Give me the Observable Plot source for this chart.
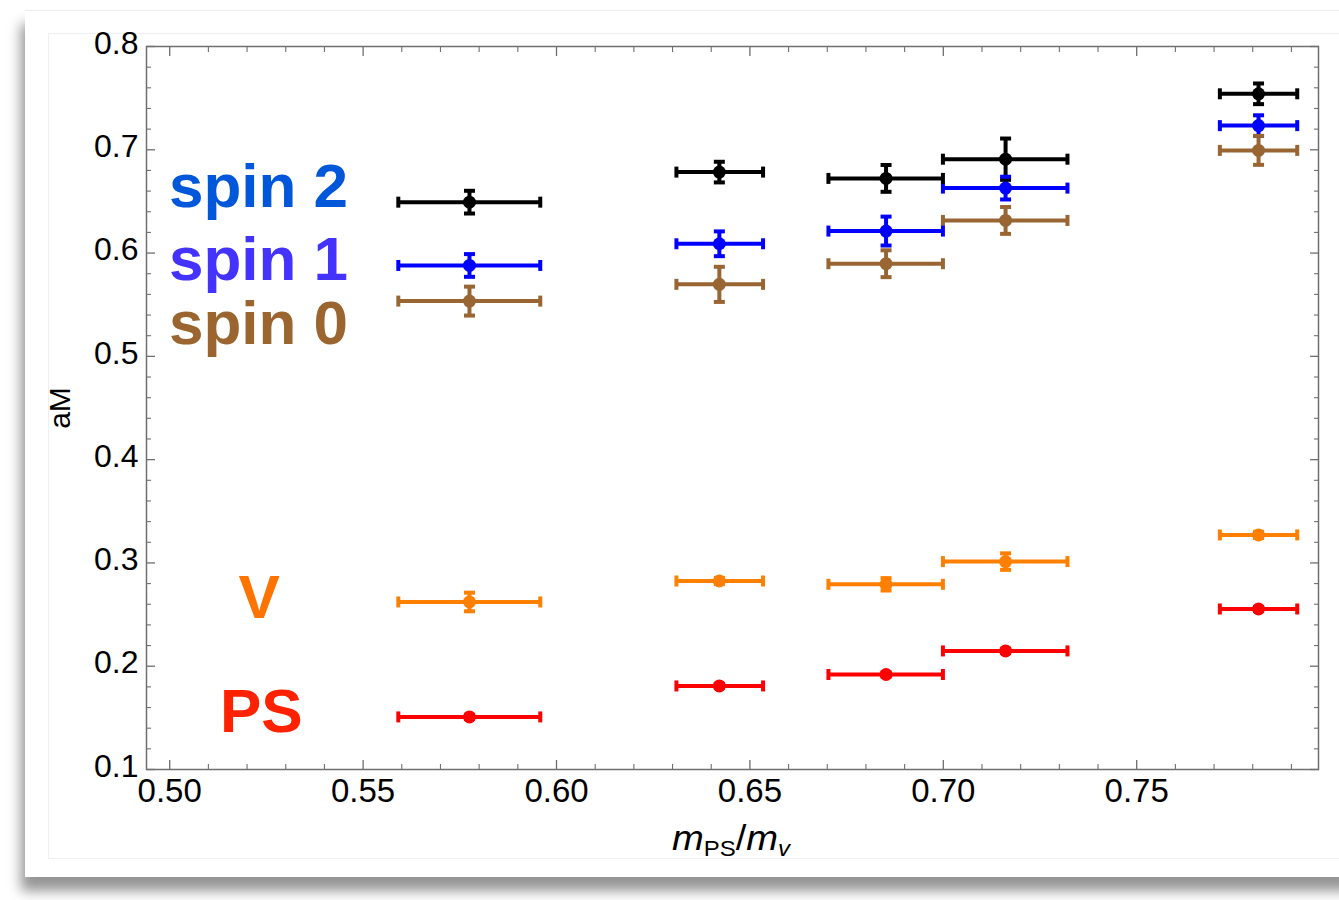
<!DOCTYPE html>
<html>
<head>
<meta charset="utf-8">
<script src="https://cdn.jsdelivr.net/npm/d3@7"></script>
<script src="https://cdn.jsdelivr.net/npm/@observablehq/plot@0.6"></script>
<style>
  html, body { margin: 0; padding: 0; background: #ffffff; width: 1339px; height: 900px; overflow: hidden; }
  #paper { position: absolute; left: 25px; top: 10px; width: 1330px; height: 866px; background: #fff;
           border-top: 1px solid #ececec; box-shadow: -4px 14px 12px rgba(0,0,0,0.42); }
  #panel { position: absolute; left: 48px; top: 33px; width: 1290px; height: 824px; border: 1px solid #efefef; }
  #chart { position: absolute; left: 0; top: 0; }
</style>
</head>
<body>
<div id="paper"></div>
<div id="panel"></div>
<div id="chart"></div>
<script>
// ---- data ----
const mpsOverMv = [0.5775, 0.6421, 0.6852, 0.7161, 0.7815];
const xLow      = [0.5591, 0.6310, 0.6703, 0.6999, 0.7715];
const xHigh     = [0.5958, 0.6534, 0.6999, 0.7321, 0.7915];

const spin2     = [0.6493, 0.6784, 0.6723, 0.6909, 0.7542];
const spin2Err  = [0.011, 0.010, 0.013, 0.020, 0.010];
const spin1     = [0.5880, 0.6090, 0.6213, 0.6629, 0.7234];
const spin1Err  = [0.011, 0.012, 0.014, 0.011, 0.010];
const spin0     = [0.5535, 0.5697, 0.5897, 0.6316, 0.6994];
const spin0Err  = [0.014, 0.017, 0.013, 0.013, 0.014];
const vector    = [0.2622, 0.2825, 0.2793, 0.3013, 0.3271];
const vectorErr = [0.009, 0.003, 0.006, 0.008, 0.003];
const pseudo    = [0.1509, 0.1809, 0.1920, 0.2148, 0.2554];
const pseudoErr = [0.002, 0.002, 0.002, 0.002, 0.002];

const seriesNames  = ["spin 2", "spin 1", "spin 0", "V", "PS"];
const seriesValues = [spin2, spin1, spin0, vector, pseudo];
const seriesErrors = [spin2Err, spin1Err, spin0Err, vectorErr, pseudoErr];
const seriesColors = ["#000000", "#0000ff", "#996633", "#ff8000", "#ff0000"];

const labelText   = ["spin 2", "spin 1", "spin 0", "V", "PS"];
const labelX      = [0.4998, 0.4998, 0.4998, 0.5231, 0.5237];
const labelY      = [0.6442, 0.5742, 0.5123, 0.2469, 0.1361];
const labelColors = ["#0057d9", "#4433ff", "#9b652f", "#ff7300", "#ff2200"];
const labelAnchor = ["start", "start", "start", "middle", "middle"];

const xMajor = [0.50, 0.55, 0.60, 0.65, 0.70, 0.75];
const yMajor = [0.1, 0.2, 0.3, 0.4, 0.5, 0.6, 0.7, 0.8];
const xMinor = d3.range(50, 80).map(d => d / 100).filter(v => !xMajor.some(m => Math.abs(m - v) < 1e-9));
const yMinor = d3.range(5, 40).map(d => d / 50).filter(v => v >= 0.1 && v <= 0.8 && !yMajor.some(m => Math.abs(m - v) < 1e-9));

// ---- build rows ----
const rows = [];
seriesNames.forEach((name, s) => {
  seriesValues[s].forEach((v, i) => {
    rows.push({
      series: name, color: seriesColors[s],
      x: mpsOverMv[i], xlo: xLow[i], xhi: xHigh[i],
      y: v, ylo: v - seriesErrors[s][i], yhi: v + seriesErrors[s][i]
    });
  });
});
const labels = labelText.map((t, i) => ({text: t, x: labelX[i], y: labelY[i], color: labelColors[i], anchor: labelAnchor[i]}));

const vCap = {draw(ctx) { ctx.rect(-2, -5.5, 4, 11); }};
const hCap = {draw(ctx) { ctx.rect(-5.5, -2, 11, 4); }};

const axisColor = "#6f6f6f";
const marks = [
  Plot.frame({stroke: axisColor, strokeWidth: 1.5}),
  // inward ticks on all four sides
  Plot.axisX(xMajor, {anchor: "bottom", tickSize: -9, tickFormat: () => "", stroke: axisColor, strokeWidth: 1.3, label: null}),
  Plot.axisX(xMinor, {anchor: "bottom", tickSize: -5, tickFormat: () => "", stroke: axisColor, strokeWidth: 1.1, label: null}),
  Plot.axisX(xMajor, {anchor: "top", tickSize: -9, tickFormat: () => "", stroke: axisColor, strokeWidth: 1.3, label: null}),
  Plot.axisX(xMinor, {anchor: "top", tickSize: -5, tickFormat: () => "", stroke: axisColor, strokeWidth: 1.1, label: null}),
  Plot.axisY(yMajor, {anchor: "left", tickSize: -9, tickFormat: () => "", stroke: axisColor, strokeWidth: 1.3, label: null}),
  Plot.axisY(yMinor, {anchor: "left", tickSize: -5, tickFormat: () => "", stroke: axisColor, strokeWidth: 1.1, label: null}),
  Plot.axisY(yMajor, {anchor: "right", tickSize: -9, tickFormat: () => "", stroke: axisColor, strokeWidth: 1.3, label: null}),
  Plot.axisY(yMinor, {anchor: "right", tickSize: -5, tickFormat: () => "", stroke: axisColor, strokeWidth: 1.1, label: null}),
  // tick labels
  Plot.axisX(xMajor, {anchor: "bottom", tickSize: 0, tickPadding: 9, tickFormat: d3.format(".2f"), fontSize: 33, fill: "#000", label: null}),
  Plot.axisY(yMajor, {anchor: "left", tickSize: 0, tickPadding: 8, tickFormat: d3.format(".1f"), fontSize: 32, fill: "#000", dy: -3, label: null}),
  Plot.text(["aM"], {frameAnchor: "left", text: d => d, rotate: -90, dx: -86, textAnchor: "middle", lineAnchor: "middle", fontSize: 30, fill: "#000"}),
  // error bars
  Plot.ruleY(rows, {y: "y", x1: "xlo", x2: "xhi", stroke: "color", strokeWidth: 4}),
  Plot.ruleX(rows, {x: "x", y1: "ylo", y2: "yhi", stroke: "color", strokeWidth: 4}),
  Plot.dot(rows, {x: "xlo", y: "y", symbol: vCap, fill: "color", stroke: "none"}),
  Plot.dot(rows, {x: "xhi", y: "y", symbol: vCap, fill: "color", stroke: "none"}),
  Plot.dot(rows, {x: "x", y: "ylo", symbol: hCap, fill: "color", stroke: "none"}),
  Plot.dot(rows, {x: "x", y: "yhi", symbol: hCap, fill: "color", stroke: "none"}),
  Plot.dot(rows, {x: "x", y: "y", r: 6.5, fill: "color", stroke: "none"}),
  // series labels
  Plot.text(labels.filter(d => d.anchor === "start"), {x: "x", y: "y", text: "text", fill: "color", textAnchor: "start", lineAnchor: "bottom", fontSize: 62, fontWeight: "bold"}),
  Plot.text(labels.filter(d => d.anchor === "middle"), {x: "x", y: "y", text: "text", fill: "color", textAnchor: "middle", lineAnchor: "bottom", fontSize: 62, fontWeight: "bold"})
];

const chart = Plot.plot({
  width: 1339,
  height: 900,
  marginLeft: 146,
  marginRight: 21,
  marginTop: 46,
  marginBottom: 131,
  x: {domain: [0.494, 0.797]},
  y: {domain: [0.1, 0.8]},
  color: {type: "identity"},
  style: {background: "transparent", fontFamily: "'Liberation Sans', Arial, Helvetica, sans-serif", overflow: "visible"},
  marks
});
document.getElementById("chart").appendChild(chart);

// x-axis label with subscripts: m_PS / m_v
const svg = d3.select(chart);
const xl = svg.append("text")
  .attr("x", 672)
  .attr("y", 850)
  .attr("text-anchor", "start")
  .attr("font-family", "'Liberation Sans', Arial, Helvetica, sans-serif")
  .attr("font-size", 35)
  .attr("fill", "#000")
  .attr("textLength", 118)
  .attr("lengthAdjust", "spacingAndGlyphs");
xl.append("tspan").attr("font-style", "italic").text("m");
xl.append("tspan").attr("font-size", 22).attr("dy", 6).text("PS");
xl.append("tspan").attr("dy", -6).text("/");
xl.append("tspan").attr("font-style", "italic").text("m");
xl.append("tspan").attr("font-size", 22).attr("font-style", "italic").attr("dy", 6).text("v");
</script>
</body>
</html>
